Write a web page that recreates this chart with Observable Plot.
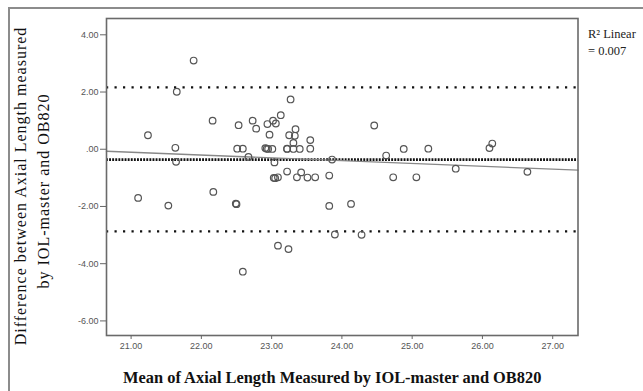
<!DOCTYPE html>
<html>
<head>
<meta charset="utf-8">
<script src="https://cdn.jsdelivr.net/npm/d3@7"></script>
<script src="https://cdn.jsdelivr.net/npm/@observablehq/plot@0.6"></script>
<style>
  html, body { margin: 0; padding: 0; background: #fff; }
  #wrap { position: relative; width: 643px; height: 391px; overflow: hidden; }
  #border { position: absolute; left: 8px; top: 7px; width: 700px; height: 500px;
            border-top: 2px solid #8c8c8c; border-left: 2px solid #8c8c8c; pointer-events: none; }
</style>
</head>
<body>
<div id="wrap"><div id="border"></div></div>
<script>
// Mean of axial length (x) and difference (y)
const meanAL = [21.89,21.65,21.24,21.63,21.64,21.10,21.53,22.16,22.17,22.49,22.50,22.53,22.51,22.59,22.67,22.73,22.78,22.59,
  22.94,22.97,22.91,22.95,23.01,23.02,23.06,23.04,23.03,23.05,23.09,23.13,23.22,23.22,23.09,23.24,23.27,23.25,23.33,23.34,
  23.31,23.31,23.40,23.36,23.42,23.51,23.55,23.55,23.62,23.82,23.86,23.82,23.90,24.13,24.28,24.46,24.63,24.73,24.88,25.06,
  25.23,25.62,26.10,26.14,26.64,22.93,23.22];
const diffAL = [3.10,2.01,0.49,0.05,-0.44,-1.70,-1.97,1.00,-1.49,-1.90,-1.92,0.84,0.02,0.02,-0.27,1.00,0.72,-4.28,
  0.88,0.51,0.04,0.01,0.01,1.00,0.90,-0.46,-1.00,-1.01,-0.98,1.19,0.01,-0.78,-3.37,-3.49,1.74,0.49,0.47,0.70,
  0.22,0.01,0.01,-0.98,-0.81,-0.99,0.32,0.02,-0.98,-0.92,-0.36,-1.98,-2.98,-1.91,-2.99,0.83,-0.22,-0.98,0.01,-0.98,
  0.02,-0.68,0.04,0.20,-0.79,0.02,0.02];
// Limits of agreement and mean difference
const limitValues = [2.16, -2.87];
const meanDiff = [-0.36];
// Fit line (end points at frame edges)
const fitX = [20.65, 27.36];
const fitY = [-0.07, -0.73];
const xTicks = [21, 22, 23, 24, 25, 26, 27];
const yTicks = [4, 2, 0, -2, -4, -6];
const xTitle = "Mean of Axial Length Measured by IOL-master and OB820";
const yTitle1 = "Difference between Axial Length measured";
const yTitle2 = "by IOL-master and OB820";
const legend1 = "R\u00B2 Linear";
const legend2 = "= 0.007";

const pts = meanAL.map((x, i) => ({x, y: diffAL[i]}));
const fit = fitX.map((x, i) => ({x, y: fitY[i]}));
const fmtY = d => d === 0 ? ".00" : d.toFixed(2);
const serif = "'Liberation Serif', 'DejaVu Serif', serif";

const chart = Plot.plot({
  width: 643, height: 391,
  marginLeft: 106, marginRight: 65.5, marginTop: 18, marginBottom: 56,
  style: {background: "transparent", fontFamily: "'Liberation Sans', Arial, sans-serif", overflow: "visible"},
  x: {domain: [20.65, 27.36], ticks: xTicks, tickFormat: d => d.toFixed(2)},
  y: {domain: [-6.51, 4.57], ticks: yTicks, tickFormat: fmtY},
  marks: [
    Plot.ruleY(limitValues, {stroke: "#111", strokeWidth: 2.2, strokeDasharray: "2.2,6.3"}),
    Plot.ruleY(meanDiff, {stroke: "#111", strokeWidth: 2.8, strokeDasharray: "1.9,1.2"}),
    Plot.line(fit, {x: "x", y: "y", stroke: "#888", strokeWidth: 1.4}),
    Plot.dot(pts, {x: "x", y: "y", r: 3.3, stroke: "#555", strokeWidth: 1.2, fill: "none"}),
    Plot.frame({stroke: "#6a6a6a", strokeWidth: 1.6}),
    Plot.axisX({ticks: xTicks, tickFormat: d => d.toFixed(2), tickSize: 4, tickPadding: 3, label: null,
      fontSize: 9, fill: "#555", stroke: "#666"}),
    Plot.axisY({ticks: yTicks, tickFormat: fmtY, tickSize: 6, tickPadding: 2, label: null,
      fontSize: 9, fill: "#555", stroke: "#666"}),
    Plot.text([xTitle], {frameAnchor: "bottom", textAnchor: "middle", dx: -10, dy: 42, fontFamily: serif, fontWeight: "bold",
      fontSize: 16.4, fill: "#111", lineAnchor: "middle"}),
    Plot.text([yTitle1], {frameAnchor: "left", textAnchor: "middle", rotate: -90, dx: -85.5, dy: 9, fontFamily: serif,
      fontSize: 16, fill: "#111", lineAnchor: "middle"}),
    Plot.text([yTitle2], {frameAnchor: "left", textAnchor: "middle", rotate: -90, dx: -63, dy: 14, fontFamily: serif,
      fontSize: 16, fill: "#111", lineAnchor: "middle"}),
    Plot.text([legend1], {frameAnchor: "top-right", dx: 10, dy: 15, textAnchor: "start", fontFamily: serif,
      fontSize: 12.5, fill: "#222", lineAnchor: "middle"}),
    Plot.text([legend2], {frameAnchor: "top-right", dx: 10, dy: 32.5, textAnchor: "start", fontFamily: serif,
      fontSize: 12.5, fill: "#222", lineAnchor: "middle"})
  ]
});
// widen the y-axis title letters to match the reference's wider typeface
d3.select(chart).selectAll("text").filter(function() {
  return this.textContent === yTitle1 || this.textContent === yTitle2;
}).style("letter-spacing", "1px");
document.getElementById("wrap").prepend(chart);
</script>
</body>
</html>
